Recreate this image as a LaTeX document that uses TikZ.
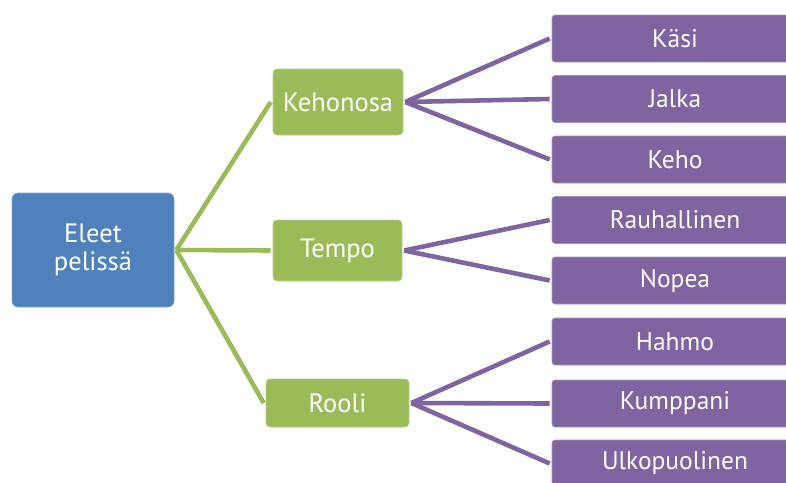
\documentclass[tikz,border=0pt]{standalone}
\usepackage{fontspec}
\setmainfont{PT Sans}
\definecolor{rootblue}{HTML}{4F81BD}
\definecolor{lvgreen}{HTML}{9BBB59}
\definecolor{lvpurple}{HTML}{8064A2}
\begin{document}
\begin{tikzpicture}[x=1pt,y=-1pt,
  rootbox/.style={fill=rootblue,draw=rootblue!70!white,line width=0.6pt,rounded corners=6pt,text=white,align=center,minimum width=162pt,minimum height=114pt,inner sep=0pt,font=\fontsize{26.5}{28}\selectfont},
  midbox/.style={fill=lvgreen,draw=lvgreen!70!white,line width=0.6pt,rounded corners=4pt,text=white,inner sep=0pt,font=\fontsize{26.5}{28}\selectfont},
  leafbox/.style={fill=lvpurple,draw=lvpurple!70!white,line width=0.6pt,rounded corners=3pt,text=white,inner sep=0pt,minimum width=246pt,minimum height=47pt,font=\fontsize{25.5}{27}\selectfont},
  gline/.style={draw=lvgreen,line width=4.6pt},
  pline/.style={draw=lvpurple,line width=4.6pt}]
\useasboundingbox (0,0) rectangle (786,482);
\clip (0,0) rectangle (786,482);
\node[rootbox] (root) at (93,250) {Eleet\\pelissä};
\node[midbox,minimum width=130pt,minimum height=66pt] (keh) at (338,102) {Kehonosa};
\node[midbox,minimum width=129pt,minimum height=61pt] (tem) at (337.5,250.5) {Tempo};
\node[midbox,minimum width=143pt,minimum height=48pt] (roo) at (337.5,403) {Rooli};
\node[leafbox] (kasi) at (675,38.5) {Käsi};
\node[leafbox] (jal) at (675,99) {Jalka};
\node[leafbox] (kehoo) at (675,159.5) {Keho};
\node[leafbox] (rau) at (675,220) {Rauhallinen};
\node[leafbox] (nop) at (675,280.5) {Nopea};
\node[leafbox] (hah) at (675,341.5) {Hahmo};
\node[leafbox] (kum) at (675,403.5) {Kumppani};
\node[leafbox] (ulk) at (675,463.5) {Ulkopuolinen};
\coordinate (r) at ([xshift=2pt]root.east);
\foreach \t in {keh,tem,roo} \draw[gline] (r) -- ([xshift=-2pt]\t.west);
\foreach \t in {kasi,jal,kehoo} \draw[pline] ([xshift=2pt]keh.east) -- ([xshift=-2pt]\t.west);
\foreach \t in {rau,nop} \draw[pline] ([xshift=2pt]tem.east) -- ([xshift=-2pt]\t.west);
\foreach \t in {hah,kum,ulk} \draw[pline] ([xshift=2pt]roo.east) -- ([xshift=-2pt]\t.west);
\end{tikzpicture}
\end{document}
